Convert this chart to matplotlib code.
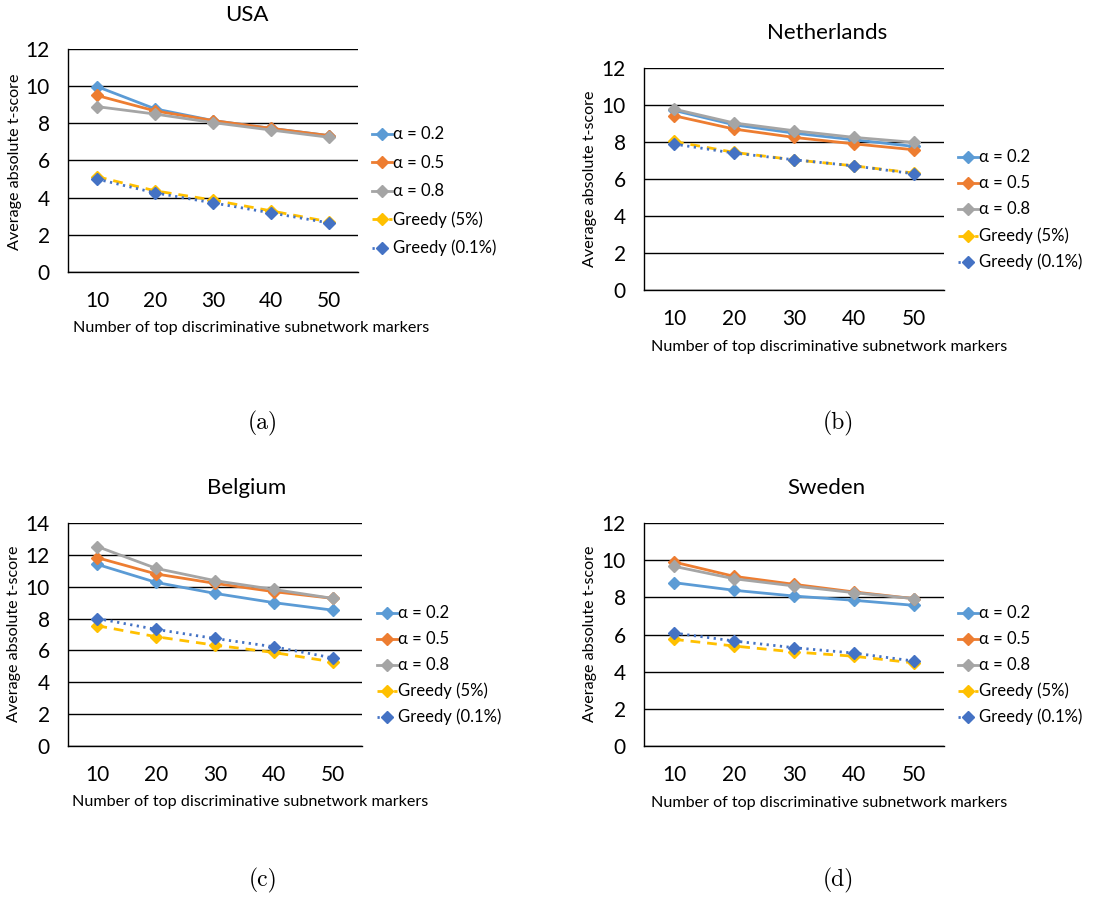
import matplotlib
matplotlib.use('Agg')
import matplotlib.pyplot as plt
from matplotlib.lines import Line2D

plt.rcParams['font.family'] = ['Lato', 'DejaVu Sans']

W, H = 1110, 897

markers = [10, 20, 30, 40, 50]
labels = ['α = 0.2', 'α = 0.5', 'α = 0.8', 'Greedy (5%)', 'Greedy (0.1%)']

# average absolute t-score per country
usa_a02 = [9.98, 8.78, 8.15, 7.73, 7.34]
usa_a05 = [9.50, 8.67, 8.15, 7.73, 7.34]
usa_a08 = [8.90, 8.50, 8.04, 7.64, 7.25]
usa_g5 = [5.13, 4.37, 3.87, 3.29, 2.70]
usa_g01 = [5.00, 4.26, 3.72, 3.18, 2.64]

nl_a02 = [9.71, 8.93, 8.48, 8.12, 7.76]
nl_a05 = [9.42, 8.70, 8.25, 7.90, 7.58]
nl_a08 = [9.78, 9.03, 8.61, 8.25, 7.98]
nl_g5 = [8.03, 7.44, 7.04, 6.71, 6.32]
nl_g01 = [7.89, 7.40, 7.04, 6.71, 6.28]

be_a02 = [11.40, 10.27, 9.58, 9.00, 8.53]
be_a05 = [11.82, 10.80, 10.21, 9.69, 9.27]
be_a08 = [12.52, 11.15, 10.38, 9.83, 9.27]
be_g5 = [7.55, 6.86, 6.33, 5.87, 5.28]
be_g01 = [8.00, 7.32, 6.75, 6.23, 5.53]

se_a02 = [8.79, 8.38, 8.07, 7.84, 7.57]
se_a05 = [9.90, 9.13, 8.70, 8.29, 7.93]
se_a08 = [9.67, 9.00, 8.61, 8.25, 7.93]
se_g5 = [5.74, 5.38, 5.06, 4.83, 4.47]
se_g01 = [6.08, 5.65, 5.29, 5.00, 4.57]

styles = [
    dict(color='#5B9BD5', ls='-'),
    dict(color='#ED7D31', ls='-'),
    dict(color='#A5A5A5', ls='-'),
    dict(color='#FFC000', ls=(0, (3.5, 2.5))),
    dict(color='#4472C4', ls=(0, (0.8, 1.6))),
]

panels = [
    # title, series, ymax, axes box (l, r, t, b px), title xy, xlabel xy, ylabel xy, legend xy, legend spacing, caption
    ('USA', [usa_a02, usa_a05, usa_a08, usa_g5, usa_g01], 12,
     (68, 358, 49, 272), (247, 15), (251, 328), (15, 162), (372, 134), 28.5, ('(a)', 263, 423)),
    ('Netherlands', [nl_a02, nl_a05, nl_a08, nl_g5, nl_g01], 12,
     (644, 944, 68, 290), (827, 33), (829, 347), (590, 179), (958, 157), 26.2, ('(b)', 838, 423)),
    ('Belgium', [be_a02, be_a05, be_a08, be_g5, be_g01], 14,
     (68, 362, 523, 746), (247, 488), (250, 802), (14, 634), (377, 613), 26.0, ('(c)', 263, 880)),
    ('Sweden', [se_a02, se_a05, se_a08, se_g5, se_g01], 12,
     (644, 944, 523, 746), (826, 488), (829, 803), (590, 634), (958, 613), 26.0, ('(d)', 838, 880)),
]


def fx(x):
    return x / W


def fy(y):
    return 1 - y / H


fig = plt.figure(figsize=(W / 100, H / 100), dpi=100)

for (title, series, ymax, box, tpos, xlpos, ylpos, lgpos, lgstep, cap) in panels:
    l, r, t, b = box
    ax = fig.add_axes([fx(l), fy(b), (r - l) / W, (b - t) / H])
    for vals, st in zip(series, styles):
        ax.plot(markers, vals, color=st['color'], ls=st['ls'], lw=2.0,
                marker='D', ms=6.5, mec=st['color'], mfc=st['color'],
                solid_capstyle='round', dash_capstyle='butt')
    ax.set_xlim(5, 55)
    ax.set_ylim(0, ymax)
    ax.set_xticks(markers)
    ax.set_yticks(range(0, ymax + 1, 2))
    ax.tick_params(length=0, labelsize=15, pad=13)
    ax.tick_params(axis='x', pad=14)
    ax.grid(axis='y', color='black', lw=1.0)
    ax.set_axisbelow(True)
    for s in ['top', 'right']:
        ax.spines[s].set_visible(False)
    ax.spines['left'].set_linewidth(1.0)
    ax.spines['bottom'].set_linewidth(1.0)

    fig.text(fx(tpos[0]), fy(tpos[1]), title, fontsize=16, ha='center', va='center')
    fig.text(fx(xlpos[0]), fy(xlpos[1]), 'Number of top discriminative subnetwork markers',
             fontsize=11.6, ha='center', va='center')
    fig.text(fx(ylpos[0]), fy(ylpos[1]), 'Average absolute t-score', fontsize=11.6,
             rotation=90, ha='center', va='center')

    # legend entries
    for i, (lab, st) in enumerate(zip(labels, styles)):
        y = lgpos[1] + i * lgstep
        x0, x1 = lgpos[0], lgpos[0] + 20
        fig.add_artist(Line2D([fx(x0), fx(x1)], [fy(y), fy(y)], color=st['color'],
                              ls=st['ls'], lw=2.0, transform=fig.transFigure))
        fig.add_artist(Line2D([fx((x0 + x1) / 2)], [fy(y)], color=st['color'], marker='D',
                              ms=6.5, ls='none', transform=fig.transFigure))
        fig.text(fx(x1 + 1), fy(y), lab, fontsize=12, ha='left', va='center')

    fig.text(fx(cap[1]), fy(cap[2]), cap[0], fontsize=17, family='cmr10',
             ha='center', va='center')

fig.savefig('out.png', dpi=100)
